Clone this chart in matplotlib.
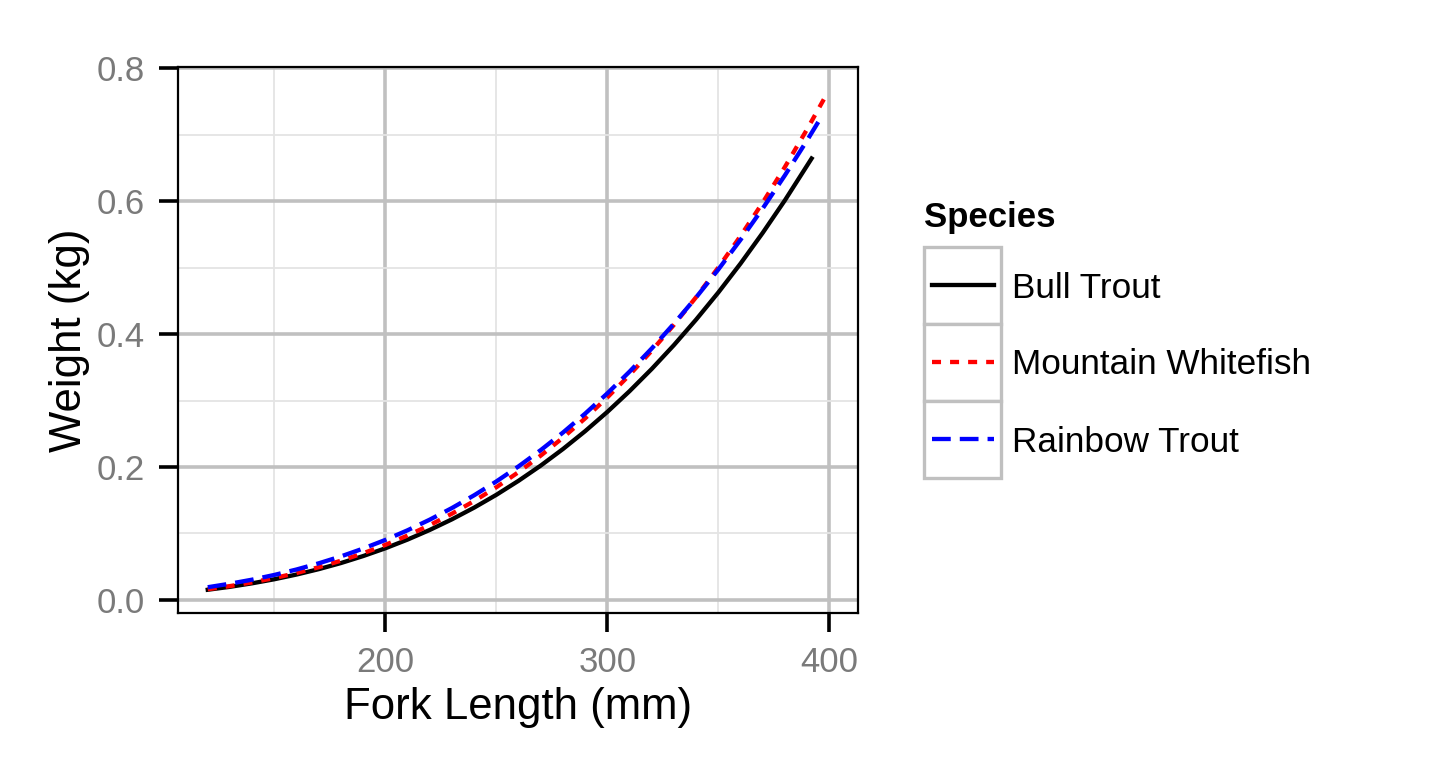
import matplotlib
matplotlib.use("Agg")
import matplotlib.pyplot as plt
from matplotlib.patches import Rectangle
from matplotlib.lines import Line2D
from matplotlib.ticker import FixedLocator

plt.rcParams['font.family'] = ['Liberation Sans', 'DejaVu Sans']
plt.rcParams['lines.scale_dashes'] = False

# ---- data ----
species = ["Bull Trout", "Mountain Whitefish", "Rainbow Trout"]

bull_len = [120, 130, 140, 150, 160, 170, 180, 190, 200, 210, 220, 230, 240, 250,
            260, 270, 280, 290, 300, 310, 320, 330, 340, 350, 360, 370, 380, 392]
bull_wt = [0.0152, 0.0196, 0.0249, 0.0310, 0.0381, 0.0462, 0.0554, 0.0659, 0.0776,
           0.0907, 0.1052, 0.1212, 0.1388, 0.1581, 0.1792, 0.2021, 0.2270, 0.2539,
           0.2829, 0.3141, 0.3476, 0.3835, 0.4219, 0.4627, 0.5062, 0.5525, 0.6015, 0.6643]

mwf_len = [120, 130, 140, 150, 160, 170, 180, 190, 200, 210, 220, 230, 240, 250,
           260, 270, 280, 290, 300, 310, 320, 330, 340, 350, 360, 370, 380, 390, 398]
mwf_wt = [0.0160, 0.0207, 0.0263, 0.0328, 0.0404, 0.0491, 0.0589, 0.0701, 0.0827,
          0.0968, 0.1124, 0.1297, 0.1487, 0.1695, 0.1923, 0.2171, 0.2441, 0.2732,
          0.3047, 0.3386, 0.3750, 0.4140, 0.4557, 0.5003, 0.5477, 0.5981, 0.6517,
          0.7085, 0.7563]

rbt_len = [120, 130, 140, 150, 160, 170, 180, 190, 200, 210, 220, 230, 240, 250,
           260, 270, 280, 290, 300, 310, 320, 330, 340, 350, 360, 370, 380, 390, 395]
rbt_wt = [0.0190, 0.0243, 0.0304, 0.0375, 0.0457, 0.0550, 0.0654, 0.0772, 0.0902,
          0.1047, 0.1207, 0.1382, 0.1574, 0.1782, 0.2009, 0.2254, 0.2518, 0.2803,
          0.3108, 0.3435, 0.3784, 0.4157, 0.4553, 0.4973, 0.5420, 0.5892, 0.6391,
          0.6918, 0.7192]

x_major = [200, 300, 400]
x_minor = [150, 250, 350]
y_major = [0.0, 0.2, 0.4, 0.6, 0.8]
y_minor = [0.1, 0.3, 0.5, 0.7]
y_labels = ["0.0", "0.2", "0.4", "0.6", "0.8"]
x_labels = ["200", "300", "400"]

# ---- styles ----
colors = ["black", "red", "blue"]
dashes = ["-", (0, (6.5, 6.5)), (0, (13.5, 6.5))]
LW = 3.1

W, H = 1440, 768
fig = plt.figure(figsize=(W / 100, H / 100), dpi=100)
ax = fig.add_axes([178 / W, 1 - 613 / H, 680 / W, 546 / H])

series = [(bull_len, bull_wt), (mwf_len, mwf_wt), (rbt_len, rbt_wt)]
for (xs, ys), c, ls in zip(series, colors, dashes):
    ax.plot(xs, ys, color=c, linestyle=ls, linewidth=LW, zorder=3,
            solid_joinstyle='round', dash_joinstyle='round')

ax.set_xlim(106.6, 412.9)
ax.set_ylim(-0.0198, 0.802)

ax.xaxis.set_major_locator(FixedLocator(x_major))
ax.xaxis.set_minor_locator(FixedLocator(x_minor))
ax.yaxis.set_major_locator(FixedLocator(y_major))
ax.yaxis.set_minor_locator(FixedLocator(y_minor))
ax.set_xticklabels(x_labels)
ax.set_yticklabels(y_labels)

ax.grid(which='major', color='#c0c0c0', linewidth=2.6, zorder=0)
ax.grid(which='minor', color='#e4e4e4', linewidth=1.3, zorder=0)
ax.set_axisbelow(True)

ax.tick_params(which='major', direction='out', length=14, width=2.6, color='black',
               labelsize=25, labelcolor='#7a7a7a', pad=10)
ax.tick_params(which='minor', length=0)
for sp in ax.spines.values():
    sp.set_linewidth(1.6)
    sp.set_color('black')

fig.text(518 / W, 1 - 708 / H, "Fork Length (mm)", ha='center', va='center', fontsize=31.5)
fig.text(70 / W, 1 - 340 / H, "Weight (kg)", ha='center', va='center', rotation=90, fontsize=31.5)

# ---- legend (drawn in pixel space) ----
lg = fig.add_axes([0, 0, 1, 1])
lg.set_xlim(0, W)
lg.set_ylim(H, 0)
lg.axis('off')

lg.text(924, 227, "Species", fontsize=25, fontweight='bold', ha='left', va='baseline')
key_top = 246.5
key_h = 77
for i, (name, c, ls) in enumerate(zip(species, colors, dashes)):
    y0 = key_top + i * key_h
    lg.add_patch(Rectangle((923.5, y0), 77, key_h, facecolor='white',
                           edgecolor='#c0c0c0', linewidth=2.4))
    yc = y0 + key_h / 2
    lg.add_line(Line2D([932, 994], [yc, yc], color=c, linestyle=ls, linewidth=LW))
    lg.text(1012, yc + 12.5, name, fontsize=25.3, ha='left', va='baseline')

fig.savefig("out.png", dpi=100)
